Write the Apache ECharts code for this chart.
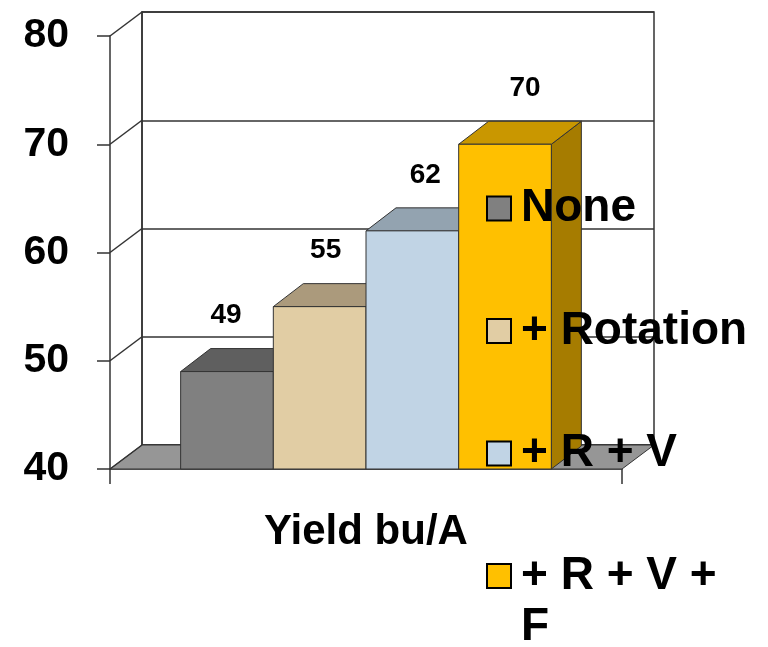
<!DOCTYPE html>
<html><head><meta charset="utf-8">
<script src="https://cdn.jsdelivr.net/npm/echarts@6/dist/echarts.min.js"></script>
<style>html,body{margin:0;padding:0;background:#fff}#c{width:768px;height:647px}</style>
</head><body><div id="c"></div>
<script>
const categories = ['Yield bu/A'];
const seriesNames = ['None', '+ Rotation', '+ R + V', '+ R + V + F'];
const seriesValues = [49, 55, 62, 70];
const yTicks = [40, 50, 60, 70, 80];
const frontColors = ['#808080', '#E1CDA4', '#C1D4E5', '#FFC000'];
const topColors = ['#5F5F5F', '#AB9A7C', '#93A3B0', '#C99700'];
const sideColors = ['#4C4C4C', '#97896E', '#7F8D99', '#A67C00'];

const FONT = "'Liberation Sans', Arial, Helvetica, sans-serif";
const DX = 32, DY = 24;
const BDX = 30, BDY = 23;
const BAR_FRAC = 0.181;
const EDGE = '#333333';

function barRender(idx) {
  return function (params, api) {
    const v = api.value(1);
    const base = api.coord([api.value(0), yTicks[0]]);
    const top = api.coord([api.value(0), v]);
    const band = api.size([1, 0])[0];
    const bw = band * BAR_FRAC;
    const x0 = base[0] - 2 * bw + idx * bw;
    const x1 = x0 + bw;
    const yb = base[1], yt = top[1];
    return {type: 'group', children: [
      {type: 'polygon', shape: {points: [[x1, yb], [x1 + BDX, yb - BDY], [x1 + BDX, yt - BDY], [x1, yt]]},
        style: {fill: sideColors[idx], stroke: EDGE, lineWidth: 1}},
      {type: 'polygon', shape: {points: [[x0, yt], [x0 + BDX, yt - BDY], [x1 + BDX, yt - BDY], [x1, yt]]},
        style: {fill: topColors[idx], stroke: EDGE, lineWidth: 1}},
      {type: 'rect', shape: {x: x0, y: yt, width: bw, height: yb - yt},
        style: {fill: frontColors[idx], stroke: EDGE, lineWidth: 1}},
      {type: 'text', x: (x0 + x1) / 2 + idx * 7 - 1, y: yt - 56,
        style: {text: String(v), fill: '#000', fontSize: 28, fontWeight: 'bold', fontFamily: FONT, align: 'center', verticalAlign: 'middle'}}
    ]};
  };
}

const series = [
  {
    type: 'custom', name: 'floor', xAxisIndex: 0, yAxisIndex: 0, silent: true,
    data: [[0, yTicks[0]]],
    renderItem: function (params, api) {
      const cs = params.coordSys;
      const y = api.coord([0, yTicks[0]])[1];
      const xl = cs.x, xr = cs.x + cs.width;
      return {type: 'polygon', shape: {points: [[xl, y], [xr, y], [xr + DX, y - DY], [xl + DX, y - DY]]},
        style: {fill: '#969696', stroke: EDGE, lineWidth: 1}};
    }
  },
  {
    type: 'custom', name: 'diag', xAxisIndex: 0, yAxisIndex: 0, silent: true,
    data: yTicks.map(v => [0, v]),
    renderItem: function (params, api) {
      const cs = params.coordSys;
      const y = api.coord([0, api.value(1)])[1];
      return {type: 'line', shape: {x1: cs.x, y1: y, x2: cs.x + DX, y2: y - DY},
        style: {stroke: EDGE, lineWidth: 1.5}};
    }
  }
];
seriesNames.forEach((n, i) => {
  series.push({
    type: 'custom', name: n, xAxisIndex: 0, yAxisIndex: 0,
    itemStyle: {color: frontColors[i]},
    data: [[0, seriesValues[i]]],
    renderItem: barRender(i)
  });
});

const legendText = {fontSize: 46, fontWeight: 'bold', fontFamily: FONT, color: '#000', padding: [0, 0, 0, 5]};

const chart = echarts.init(document.getElementById('c'));
chart.setOption({
  animation: false,
  backgroundColor: '#fff',
  grid: [
    {left: 110, right: 146, top: 36, bottom: 178},
    {left: 142, right: 114, top: 12, bottom: 202, show: true, borderColor: EDGE, borderWidth: 1.5, backgroundColor: 'transparent'}
  ],
  xAxis: [
    {type: 'category', gridIndex: 0, data: categories,
      axisLine: {show: true, lineStyle: {color: EDGE, width: 1.5}},
      axisTick: {show: true, length: 15, lineStyle: {color: EDGE, width: 1.5}},
      axisLabel: {fontSize: 42, fontWeight: 'bold', fontFamily: FONT, color: '#000', margin: 42}},
    {type: 'category', gridIndex: 1, data: categories, show: false}
  ],
  yAxis: [
    {type: 'value', gridIndex: 0, min: 40, max: 80, interval: 10,
      axisLine: {show: true, lineStyle: {color: EDGE, width: 1.5}},
      axisTick: {show: true, inside: false, length: 13, lineStyle: {color: EDGE, width: 1.5}},
      splitLine: {show: false},
      axisLabel: {fontSize: 41, fontWeight: 'bold', fontFamily: FONT, color: '#000', margin: 41}},
    {type: 'value', gridIndex: 1, min: 40, max: 80, interval: 10,
      axisLine: {show: true, lineStyle: {color: EDGE, width: 1.5}},
      axisTick: {show: false}, axisLabel: {show: false},
      splitLine: {show: true, lineStyle: {color: EDGE, width: 1.5}}}
  ],
  legend: [
    {data: seriesNames.slice(0, 3), orient: 'vertical', left: 486, top: 184.5, padding: 0,
      icon: 'rect', itemWidth: 24, itemHeight: 24, itemGap: 74.5, selectedMode: false,
      itemStyle: {borderColor: '#000', borderWidth: 2},
      textStyle: Object.assign({lineHeight: 48}, legendText)},
    {data: seriesNames.slice(3), orient: 'vertical', left: 486, top: 499.5, padding: 0,
      icon: 'rect', itemWidth: 24, itemHeight: 24, selectedMode: false,
      itemStyle: {borderColor: '#000', borderWidth: 2},
      formatter: function (name) { return ' \n' + name.replace(/ \+ F$/, ' +\nF'); },
      textStyle: Object.assign({lineHeight: 51}, legendText)}
  ],
  series: series
});
</script></body></html>
